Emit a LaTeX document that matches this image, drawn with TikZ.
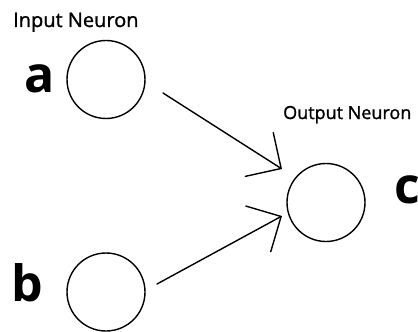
\documentclass[tikz,border=0pt]{standalone}
\usepackage{fontspec}
\setmainfont{Open Sans}
\newfontfamily\titlefont[FakeBold=1.2]{Open Sans}
\usetikzlibrary{arrows.meta}
\begin{document}
\begin{tikzpicture}[x=1pt,y=-1pt,
  neuron/.style={draw=black,line width=1.4pt,circle,minimum size=78pt,inner sep=0pt},
  title/.style={font=\titlefont,inner sep=0pt,anchor=base west},
  letter/.style={font=\fontsize{50}{50}\selectfont\bfseries,inner sep=0pt},
  conn/.style={line width=1.4pt,line cap=round,-{Straight Barb[length=26pt,width=52pt,line cap=round]}}]
\useasboundingbox (0,0) rectangle (418,332);
\node[neuron] (na) at (106,79.5) {};
\node[neuron] (nb) at (106,292) {};
\node[neuron] (nc) at (326,202.5) {};
\node[title] (ti) at (13,27) {\fontsize{20}{21}\selectfont Input Neuron};
\node[title] (to) at (283,119) {\fontsize{18}{19}\selectfont Output Neuron};
\node[letter] (la) at (39.5,78.5) {a};
\node[letter] (lb) at (27.5,283) {b};
\node[letter,anchor=west] (lc) at (394,189.5) {c};
\coordinate (s1) at (163,93);
\coordinate (e1) at (282,169);
\coordinate (s2) at (157,284);
\coordinate (e2) at (282,216);
\draw[conn] (s1) -- (e1);
\draw[conn] (s2) -- (e2);
\end{tikzpicture}
\end{document}
